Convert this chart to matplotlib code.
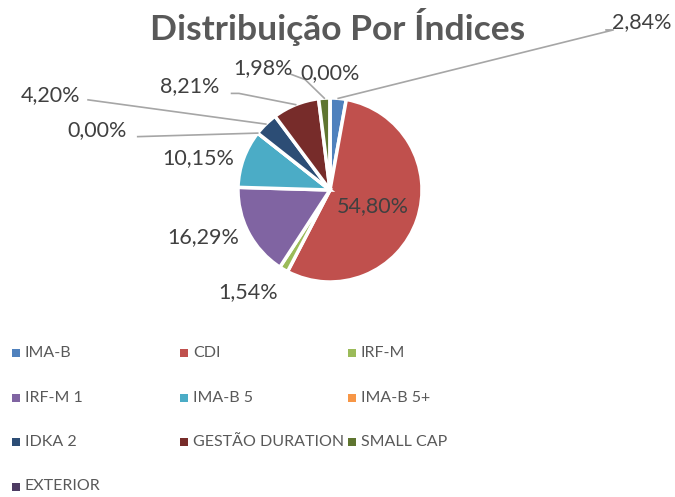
import numpy as np
import matplotlib.pyplot as plt
from matplotlib.patches import Rectangle

plt.rcParams['font.family'] = ['Lato', 'DejaVu Sans']

# data
categories = ['IMA-B', 'CDI', 'IRF-M', 'IRF-M 1', 'IMA-B 5', 'IMA-B 5+',
              'IDKA 2', 'GESTÃO DURATION', 'SMALL CAP', 'EXTERIOR']
shares = [2.84, 54.80, 1.54, 16.29, 10.15, 0.00, 4.20, 8.21, 1.98, 0.00]

colors = ['#4F81BD', '#C0504D', '#9BBB59', '#8064A2', '#4BACC6', '#F79646',
          '#2C4D75', '#772C2A', '#5F7530', '#4D3B62']

# label placement (data units, pie radius = 1) and optional leader elbow
label_pos = [(3.39, 1.83), (0.46, -0.17), (-0.89, -1.11), (-1.38, -0.51),
             (-1.43, 0.35), (-2.53, 0.65), (-3.04, 1.03), (-1.52, 1.13),
             (-0.73, 1.33), (0.0, 1.27)]
leaders = [[(3.0, 1.74), (3.08, 1.74)], None, None, None, None,
           [(-2.09, 0.58)], [(-2.63, 0.98)], [(-1.07, 1.05), (-0.99, 1.05)],
           [(-0.43, 1.26), (-0.27, 1.20)], None]

fig = plt.figure(figsize=(6.75, 4.97), dpi=100)
W, H = 675, 497
cx, cy, r = 330, 190, 92
ax = fig.add_axes([(cx - r) / W, (H - cy - r) / H, 2 * r / W, 2 * r / H])

wedges, _ = ax.pie(shares, colors=colors, startangle=90, counterclock=False,
                   radius=1, wedgeprops=dict(edgecolor='white', linewidth=2.5))
ax.set_xlim(-1, 1)
ax.set_ylim(-1, 1)
ax.axis('off')
for w in wedges:
    w.set_clip_on(False)

cum = np.cumsum([0] + shares[:-1])
total = sum(shares)
for i, v in enumerate(shares):
    mid = (cum[i] + v / 2) / total * 360
    ang = np.deg2rad(90 - mid)
    start = (np.cos(ang) * 1.0, np.sin(ang) * 1.0)
    txt = f'{v:.2f}%'.replace('.', ',')
    tx, ty = label_pos[i]
    ax.text(tx, ty, txt, ha='center', va='center', fontsize=15.5,
            color='#404040', clip_on=False)
    if leaders[i]:
        pts = [start] + leaders[i][::-1]
        xs = [p[0] for p in pts]
        ys = [p[1] for p in pts]
        ax.plot(xs, ys, color='#A6A6A6', lw=1.2, clip_on=False)

fig.text(338 / W, 1 - 27 / H, 'Distribuição Por Índices', ha='center',
         va='center', fontsize=25.5, fontweight='bold', color='#595959')

# legend, 3 equal columns like the spreadsheet
for i, name in enumerate(categories):
    row, col = divmod(i, 3)
    x0 = 12 + col * 168
    y0 = 353 + row * 44.5
    fig.patches.append(Rectangle((x0 / W, 1 - (y0 + 4) / H), 8 / W, 8 / H,
                                 transform=fig.transFigure,
                                 facecolor=colors[i], edgecolor='none'))
    fig.text((x0 + 13) / W, 1 - y0 / H, name, ha='left', va='center',
             fontsize=11.5, color='#595959')

fig.savefig('out.png', dpi=100)
